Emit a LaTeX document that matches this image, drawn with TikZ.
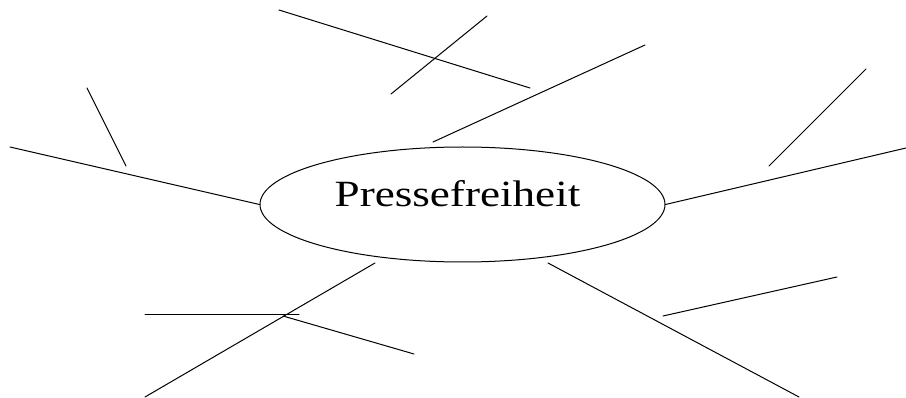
\documentclass[tikz,border=0pt]{standalone}
\usepackage{fontspec}
\newfontfamily\topicfont[FakeStretch=1.22]{Liberation Serif}
\usetikzlibrary{shapes.geometric}

\begin{document}
\begin{tikzpicture}[
  x=1pt, y=-1pt,
  topic/.style={ellipse, draw, line width=1pt, inner sep=0pt,
                minimum width=405pt, minimum height=115pt,
                text height=5pt, text depth=0pt,
                font=\topicfont\fontsize{37}{40}\selectfont},
  branch/.style={line width=1pt, line cap=round}
]
\useasboundingbox (0,0) rectangle (906,398);

\node[topic] (press) at (462.5,204.5) {Pressefreiheit\kern10pt};

% free ends of the branches
\coordinate (tlA) at (279,10);   \coordinate (tlB) at (530,88);
\coordinate (tcA) at (487,16);   \coordinate (tcB) at (391,94);
\coordinate (trA) at (645,45);   \coordinate (trB) at (433,142);
\coordinate (lfA) at (10,147);
\coordinate (lsA) at (87,88);    \coordinate (lsB) at (126,166);
\coordinate (rfA) at (906,148);
\coordinate (rsA) at (866,69);   \coordinate (rsB) at (769,166);
\coordinate (blA) at (375,263);  \coordinate (blB) at (145,397);
\coordinate (bhA) at (145,315);  \coordinate (bhB) at (299,315);
\coordinate (bdA) at (283,316);  \coordinate (bdB) at (414,354);
\coordinate (brA) at (548,263);  \coordinate (brB) at (799,397);
\coordinate (bsA) at (663,316);  \coordinate (bsB) at (837,277);

\draw[branch] (tlA) -- (tlB);
\draw[branch] (tcA) -- (tcB);
\draw[branch] (trA) -- (trB);
\draw[branch] (lfA) -- (press.west);
\draw[branch] (lsA) -- (lsB);
\draw[branch] (press.east) -- (rfA);
\draw[branch] (rsA) -- (rsB);
\draw[branch] (blA) -- (blB);
\draw[branch] (bhA) -- (bhB);
\draw[branch] (bdA) -- (bdB);
\draw[branch] (brA) -- (brB);
\draw[branch] (bsA) -- (bsB);

\end{tikzpicture}
\end{document}
